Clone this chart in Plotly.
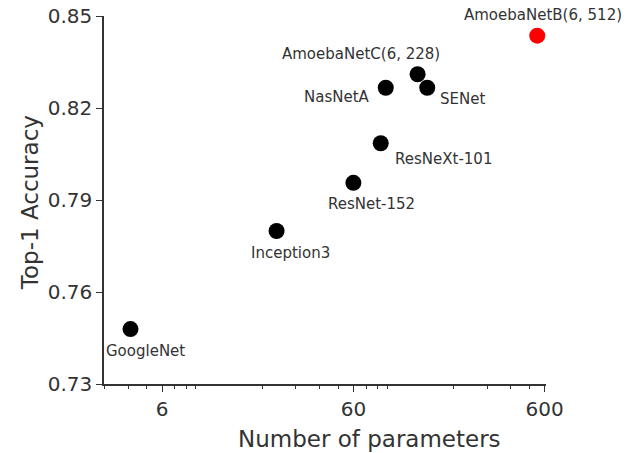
import math
import plotly.graph_objects as go

models = ["GoogleNet", "Inception3", "ResNet-152", "ResNeXt-101", "NasNetA",
          "AmoebaNetC(6, 228)", "SENet", "AmoebaNetB(6, 512)"]
params = [4.1, 23.8, 60.0, 83.4, 88.6, 130, 146, 549]
acc = [0.7479, 0.7799, 0.7956, 0.8085, 0.8266, 0.8310, 0.8266, 0.8436]
colors = ["black"] * 7 + ["#ff0000"]
# label offsets in pixels (dx, dy up)
label_dx = [15, 13.6, 18, 63, -48.7, -57, 35.5, 6]
label_dy = [-22, -22, -21, -16, -9, 20.3, -11.3, 20.7]

x_ticks = [6, 60, 600]
x_ticktext = ["6", "60", "600"]
x_minor = [3, 4, 5, 7, 8, 9, 20, 30, 40, 50, 70, 80, 90, 200, 300, 400, 500]
y_ticks = [0.73, 0.76, 0.79, 0.82, 0.85]
y_ticktext = ["0.73", "0.76", "0.79", "0.82", "0.85"]

FONT = "DejaVu Sans"
TXT = "#333333"

fig = go.Figure()
fig.add_trace(go.Scatter(
    x=params, y=acc, mode="markers",
    marker=dict(size=16, color=colors, line=dict(width=0)),
    showlegend=False, hoverinfo="skip",
))

for m, p, a, dx, dy in zip(models, params, acc, label_dx, label_dy):
    fig.add_annotation(x=math.log10(p), y=a, xref="x", yref="y", text=m,
                       showarrow=False, xshift=dx, yshift=dy,
                       xanchor="center", yanchor="middle",
                       font=dict(family=FONT, size=15, color=TXT))

fig.add_annotation(x=0.6, y=-0.149, xref="paper", yref="paper",
                   text="Number of parameters", showarrow=False,
                   xanchor="center", yanchor="middle",
                   font=dict(family=FONT, size=23, color=TXT))
fig.add_annotation(x=-0.167, y=0.492, xref="paper", yref="paper",
                   text="Top-1 Accuracy", showarrow=False, textangle=-90,
                   xanchor="center", yanchor="middle",
                   font=dict(family=FONT, size=23, color=TXT))

fig.update_layout(
    width=639, height=453,
    margin=dict(l=104, r=93, t=16, b=69, autoexpand=False),
    paper_bgcolor="white", plot_bgcolor="white",
    font=dict(family=FONT, color=TXT),
    xaxis=dict(
        type="log", range=[math.log10(2.98), math.log10(610)],
        automargin=False,
        tickmode="array", tickvals=x_ticks, ticktext=x_ticktext,
        ticks="outside", ticklen=6, tickwidth=1.2, tickcolor="#333",
        showline=True, linecolor="#333", linewidth=1.5,
        showgrid=False, zeroline=False,
        tickfont=dict(family=FONT, size=20, color=TXT),
        minor=dict(tickmode="array", tickvals=x_minor, ticks="outside",
                   ticklen=3, tickwidth=1, tickcolor="#333", showgrid=False),
    ),
    yaxis=dict(
        range=[0.73, 0.85],
        automargin=False,
        tickmode="array", tickvals=y_ticks, ticktext=y_ticktext,
        ticks="outside", ticklen=6, tickwidth=1.2, tickcolor="#333",
        showline=True, linecolor="#333", linewidth=1.5,
        showgrid=False, zeroline=False,
        tickfont=dict(family=FONT, size=20, color=TXT),
    ),
)

fig.write_html("out.html",
               config={"displayModeBar": False},
               post_script="document.body.style.margin='0';")
